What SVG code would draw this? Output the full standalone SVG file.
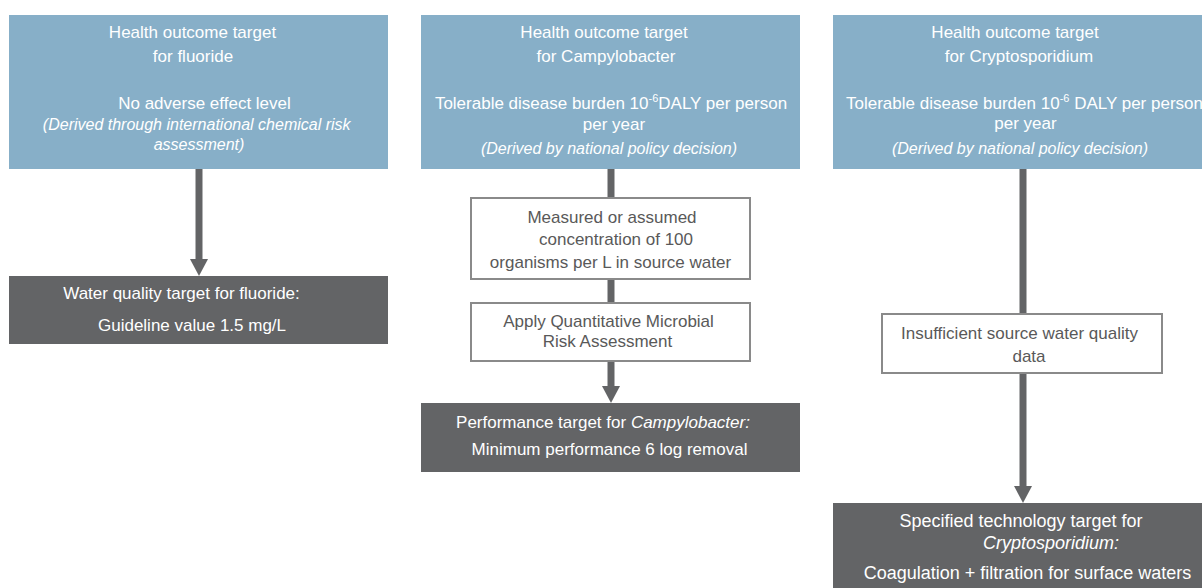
<svg xmlns="http://www.w3.org/2000/svg" width="1202" height="588" viewBox="0 0 1202 588">
<style>
.blue{fill:#87AFC8}
.dark{fill:#636466}
.wbox{fill:#fff;stroke:#8a8a8a;stroke-width:2}
text{font-family:"Liberation Sans",Arial,sans-serif;font-size:17px;text-anchor:middle}
.w{fill:#fff}
.g{fill:#595959}
.it{font-style:italic;font-size:16px}
.big{font-size:18px}
.conn{stroke:#636466;stroke-width:7;fill:none}
</style>
<defs>
<marker id="ah" markerUnits="userSpaceOnUse" markerWidth="17" markerHeight="18" refX="0" refY="9" orient="auto" viewBox="0 0 17 18">
<path d="M0,0 L17,9 L0,18 Z" fill="#636466"/>
</marker>
</defs>

<g id="connectors">
<line class="conn" x1="199" y1="169" x2="199" y2="259" marker-end="url(#ah)"/>
<line class="conn" x1="611" y1="169" x2="611" y2="198"/>
<line class="conn" x1="611" y1="279" x2="611" y2="303"/>
<line class="conn" x1="611" y1="361" x2="611" y2="386" marker-end="url(#ah)"/>
<line class="conn" x1="1023" y1="169" x2="1023" y2="314"/>
<line class="conn" x1="1023" y1="373" x2="1023" y2="486" marker-end="url(#ah)"/>
</g>

<g id="health-fluoride">
<rect class="blue" x="9" y="15" width="379" height="154"/>
<text class="w" x="192.5" y="38">Health outcome target</text>
<text class="w" x="193" y="62">for fluoride</text>
<text class="w" x="204.5" y="109">No adverse effect level</text>
<text class="w it" x="196.7" y="130">(Derived through international chemical risk</text>
<text class="w it" x="199" y="150">assessment)</text>
</g>

<g id="health-campylobacter">
<rect class="blue" x="421" y="15" width="379" height="154"/>
<text class="w" x="604" y="38">Health outcome target</text>
<text class="w" x="606" y="62">for  Campylobacter</text>
<text class="w" x="611" y="109">Tolerable disease burden 10<tspan font-size="11" dy="-7">-6</tspan><tspan dy="7">DALY per person</tspan></text>
<text class="w" x="614" y="130">per year</text>
<text class="w it" x="609" y="154">(Derived by national policy decision)</text>
</g>

<g id="health-cryptosporidium">
<rect class="blue" x="833" y="15" width="380" height="154"/>
<text class="w" x="1015" y="38">Health outcome target</text>
<text class="w" x="1019" y="62">for  Cryptosporidium</text>
<text class="w" x="1024.5" y="109">Tolerable disease burden 10<tspan font-size="11" dy="-7">-6</tspan><tspan dy="7"> DALY per person</tspan></text>
<text class="w" x="1025.5" y="129">per year</text>
<text class="w it" x="1020" y="154">(Derived by national policy decision)</text>
</g>

<g id="water-quality-fluoride">
<rect class="dark" x="9" y="276" width="379" height="68"/>
<text class="w" x="181.5" y="299">Water quality target for fluoride:</text>
<text class="w" x="192" y="331">Guideline value 1.5 mg/L</text>
</g>

<g id="measured-concentration">
<rect class="wbox" x="471" y="198" width="279" height="81"/>
<text class="g" x="612" y="223">Measured or assumed</text>
<text class="g" x="616" y="245">concentration of 100</text>
<text class="g" x="610.5" y="268">organisms per L in source water</text>
</g>

<g id="apply-qmra">
<rect class="wbox" x="471" y="303" width="279" height="58"/>
<text class="g" x="608.5" y="327">Apply Quantitative Microbial</text>
<text class="g" x="607.5" y="347">Risk Assessment</text>
</g>

<g id="performance-campylobacter">
<rect class="dark" x="421" y="403" width="379" height="69"/>
<text class="w" x="603" y="428">Performance target for <tspan font-style="italic">Campylobacter:</tspan></text>
<text class="w" x="609.5" y="455">Minimum performance 6 log removal</text>
</g>

<g id="insufficient-data">
<rect class="wbox" x="882" y="314" width="280" height="59"/>
<text class="g" x="1019.5" y="339">Insufficient source water quality</text>
<text class="g" x="1029" y="362">data</text>
</g>

<g id="technology-cryptosporidium">
<rect class="dark" x="833" y="503" width="380" height="90"/>
<text class="w big" x="1021" y="527">Specified technology target for</text>
<text class="w big" x="1051" y="549" font-style="italic">Cryptosporidium:</text>
<text class="w big" x="1027.5" y="579">Coagulation + filtration for surface waters</text>
</g>
</svg>
